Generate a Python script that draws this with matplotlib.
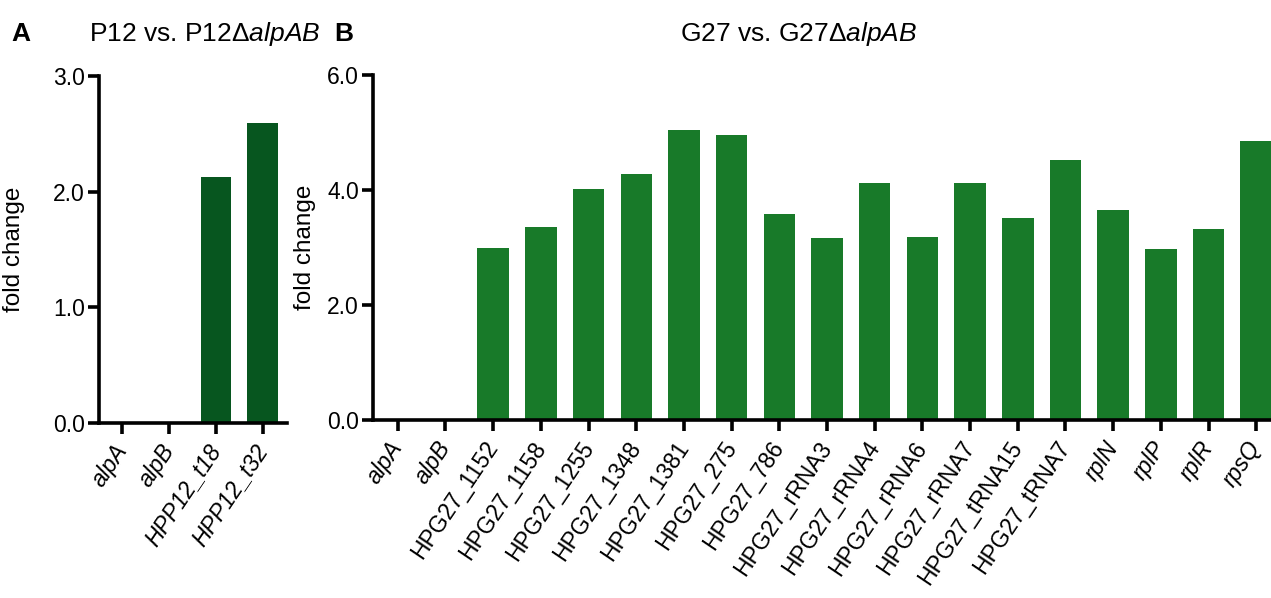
import matplotlib
matplotlib.use("Agg")
import matplotlib.pyplot as plt
from matplotlib.ticker import FormatStrFormatter, MultipleLocator

plt.rcParams["font.family"] = ["Liberation Sans", "DejaVu Sans"]
plt.rcParams["mathtext.fontset"] = "custom"
plt.rcParams["mathtext.rm"] = "Liberation Sans"
plt.rcParams["mathtext.it"] = "Liberation Sans:italic"

# ── Data ────────────────────────────────────────────────────────────────

p12_genes = ["alpA", "alpB", "HPP12_t18", "HPP12_t32"]
p12_italic = [True, True, True, True]
p12_fold = [0.0, 0.0, 2.13, 2.59]

g27_genes = [
    "alpA", "alpB", "HPG27_1152", "HPG27_1158", "HPG27_1255", "HPG27_1348",
    "HPG27_1381", "HPG27_275", "HPG27_786", "HPG27_rRNA3", "HPG27_rRNA4",
    "HPG27_rRNA6", "HPG27_rRNA7", "HPG27_tRNA15", "HPG27_tRNA7",
    "rplN", "rplP", "rplR", "rpsQ",
]
g27_italic = [True, True] + [False] * 13 + [True, True, True, True]
g27_fold = [
    0.0, 0.0, 2.99, 3.35, 4.02, 4.28, 5.05, 4.95, 3.58, 3.17, 4.13,
    3.19, 4.13, 3.51, 4.52, 3.66, 2.98, 3.32, 4.85,
]

C_P12 = "#07561f"
C_G27 = "#187a29"
FS_TICK = 16.5
FS_LABEL = 17.5
FS_TITLE = 19


def style_axis(ax, labels, italic, ymax, ystep):
    for side in ("top", "right"):
        ax.spines[side].set_visible(False)
    for side in ("left", "bottom"):
        ax.spines[side].set_linewidth(2.6)
    ax.set_ylim(0, ymax)
    ax.yaxis.set_major_locator(MultipleLocator(ystep))
    ax.yaxis.set_major_formatter(FormatStrFormatter("%.1f"))
    ax.tick_params(axis="both", direction="out", length=8, width=2.6,
                   labelsize=FS_TICK, pad=2)
    ax.tick_params(axis="x", pad=9)
    ax.set_xticks(range(len(labels)))
    ax.set_xticklabels(labels, rotation=56, ha="right", va="center",
                       rotation_mode="anchor")
    for lbl, it in zip(ax.get_xticklabels(), italic):
        lbl.set_fontstyle("italic" if it else "normal")
    ax.set_ylabel("fold change", fontsize=FS_LABEL)


fig = plt.figure(figsize=(12.71, 5.98), dpi=100)
W, H = 1271, 598

# Panel A
ax_a = fig.add_axes([99 / W, (H - 423) / H, (287 - 99) / W, 347 / H])
ax_a.bar(range(len(p12_fold)), p12_fold, width=0.65, color=C_P12)
ax_a.set_xlim(-0.5, 3.52)
style_axis(ax_a, p12_genes, p12_italic, 3.0, 1.0)
ax_a.yaxis.set_label_coords((25 - 99) / 188, 0.5)

# Panel B
ax_b = fig.add_axes([373 / W, (H - 420) / H, (W - 373) / W, 345 / H])
ax_b.bar(range(len(g27_fold)), g27_fold, width=0.66, color=C_G27)
ax_b.set_xlim(-0.52, 18.31)
style_axis(ax_b, g27_genes, g27_italic, 6.0, 2.0)
ax_b.yaxis.set_label_coords((316 - 373) / 898, 0.5)

# Panel letters and titles
fig.text(11 / W, 1 - 34 / H, "A", fontsize=19, fontweight="bold", va="center")
fig.text(334 / W, 1 - 34 / H, "B", fontsize=19, fontweight="bold", va="center")
fig.text(205 / W, 1 - 34 / H, r"P12 vs. P12Δ$\mathit{alpAB}$",
         fontsize=FS_TITLE, ha="center", va="center")
fig.text(799 / W, 1 - 34 / H, r"G27 vs. G27Δ$\mathit{alpAB}$",
         fontsize=FS_TITLE, ha="center", va="center")

fig.savefig("out.png", dpi=100)
